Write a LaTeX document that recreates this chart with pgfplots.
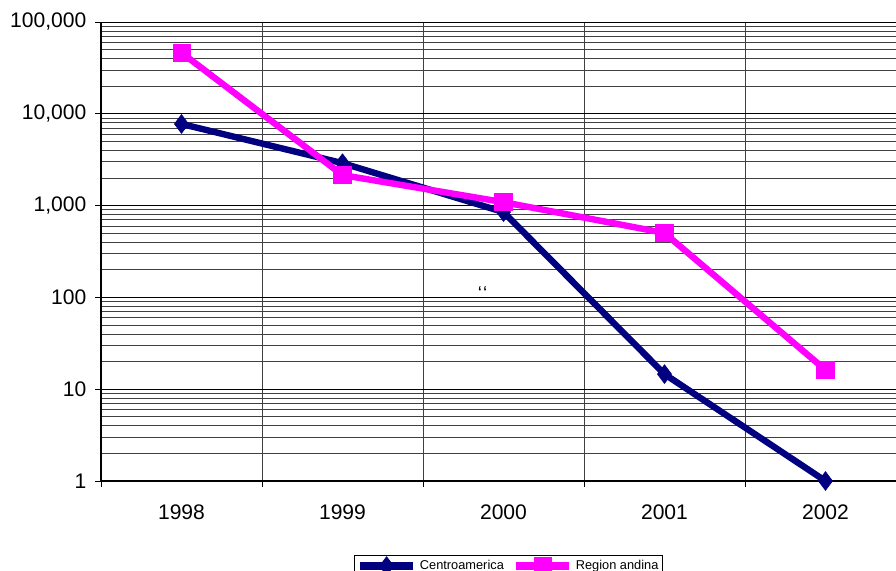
\documentclass[border=0pt]{standalone}
\usepackage{fontspec}
\setmainfont{Liberation Sans}
\usepackage{pgfplots}
\pgfplotsset{compat=1.18}
\definecolor{navyline}{RGB}{0,0,128}
\definecolor{magline}{RGB}{255,0,255}
\begin{document}
\begin{tikzpicture}
\begin{axis}[
  at={(75.75pt,67.5pt)}, anchor=south west,
  scale only axis, width=596.25pt, height=344.25pt,
  ymode=log, ymin=1, ymax=100000,
  xmin=-0.5, xmax=4.438,
  axis x line*=bottom, axis y line*=left,
  axis line style={black, line width=0.8pt},
  tick align=outside,
  ytick={1,10,100,1000,10000,100000},
  yticklabels={1,10,100,{1,000},{10,000},{100,000}},
  major tick length=4.5pt, minor tick length=4.5pt,
  minor y tick style={draw=none},
  major x tick style={draw=none},
  xtick={0,1,2,3,4},
  xticklabels={1998,1999,2000,2001,2002},
  minor xtick={-0.5,0.5,1.5,2.5,3.5},
  xminorgrids, ymajorgrids, yminorgrids,
  major grid style={black, line width=0.6pt},
  minor grid style={black!75, line width=0.5pt},
  tick style={black, line width=0.6pt},
  /pgf/number format/assume math mode=true,
  ticklabel style={font=\fontsize{15.8}{18}\selectfont},
  xticklabel style={yshift=-10pt},
  yticklabel style={xshift=-3pt},
  clip=false,
  legend columns=2,
  legend style={at={(0.5126,0)}, anchor=north, yshift=-55.5pt,
    draw=black, line width=0.6pt, font=\fontsize{9.6}{11}\selectfont,
    inner xsep=1pt, inner ysep=1pt,
    /tikz/every even column/.append style={column sep=4pt}},
  legend image code/.code={\draw[mark repeat=2,mark phase=2,#1,line width=6pt] plot coordinates {(0pt,0pt) (20pt,0pt) (40pt,0pt)};},
]
\addplot[navyline, line width=4.8pt, mark=diamond*, mark size=7pt, mark options={line width=0.5pt}] coordinates {
  (0,7750) (1,2900) (2,850) (3,14.6) (4,1)};
\addplot[magline, line width=4.8pt, mark=square*, mark size=6.5pt, mark options={line width=0.5pt}] coordinates {
  (0,46300) (1,2150) (2,1090) (3,503) (4,16.2)};
\legend{Centroamerica, Region andina}
\node[font=\fontsize{14}{16}\selectfont] at (axis cs:1.87,112) {\symbol{96}\kern1pt\symbol{96}};
\end{axis}
\pgfresetboundingbox
\path[use as bounding box] (0,0) rectangle (672pt,428.25pt);
\end{tikzpicture}
\end{document}
